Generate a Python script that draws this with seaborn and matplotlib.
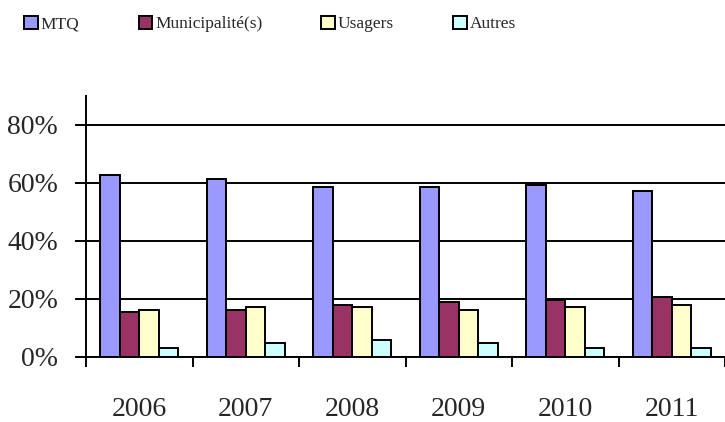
import numpy as np
import pandas as pd
import matplotlib
matplotlib.use("Agg")
import matplotlib.pyplot as plt
import seaborn as sns
from matplotlib.ticker import PercentFormatter, FixedLocator

years = ["2006", "2007", "2008", "2009", "2010", "2011"]
series = ["MTQ", "Municipalité(s)", "Usagers", "Autres"]
mtq = [0.628, 0.613, 0.585, 0.585, 0.592, 0.572]
municipalites = [0.156, 0.163, 0.178, 0.191, 0.198, 0.207]
usagers = [0.163, 0.172, 0.171, 0.163, 0.171, 0.178]
autres = [0.032, 0.047, 0.059, 0.047, 0.032, 0.032]
colors = ["#9999FF", "#993366", "#FFFFCC", "#CCFFFF"]

df = pd.DataFrame({"Année": years * 4,
                   "Source": np.repeat(series, len(years)),
                   "Part": mtq + municipalites + usagers + autres})

sns.set_style("white")
plt.rcParams["font.family"] = ["Liberation Serif", "DejaVu Serif"]

fig = plt.figure(figsize=(7.25, 4.22), dpi=100)
ax = fig.add_axes([86 / 725, 65 / 422, 1 - 86 / 725, 261 / 422])

sns.barplot(data=df, x="Année", y="Part", hue="Source", order=years,
            hue_order=series, palette=colors, width=0.73, saturation=1,
            edgecolor="black", linewidth=1.4, ax=ax, legend=True)

ax.set_ylim(0, 0.9)
ax.set_xlim(-0.5, len(years) - 0.5)
ax.set_yticks([0, 0.2, 0.4, 0.6, 0.8])
ax.yaxis.set_major_formatter(PercentFormatter(1.0, decimals=0))
ax.yaxis.grid(True, color="black", linewidth=1.4)
ax.set_axisbelow(True)
ax.set_xlabel("")
ax.set_ylabel("")

for side in ["top", "right"]:
    ax.spines[side].set_visible(False)
for side in ["left", "bottom"]:
    ax.spines[side].set_color("black")
    ax.spines[side].set_linewidth(1.4)

ax.tick_params(axis="y", which="major", left=True, length=8, width=1.4,
               color="black", pad=12, labelsize=20)
ax.tick_params(axis="x", which="major", length=0, pad=29, labelsize=20)
ax.xaxis.set_minor_locator(FixedLocator(np.arange(-0.5, len(years), 1.0)))
ax.tick_params(axis="x", which="minor", bottom=True, length=7, width=1.4,
               color="black")

handles, labels = ax.get_legend_handles_labels()
ax.get_legend().remove()
fig.legend(handles, labels, loc="upper left", bbox_to_anchor=(0.012, 1.0),
           ncol=4, frameon=False, fontsize=12.5, handlelength=0.8,
           handleheight=0.8, handletextpad=0.15, columnspacing=3.4)

fig.savefig("out.png", dpi=100)
